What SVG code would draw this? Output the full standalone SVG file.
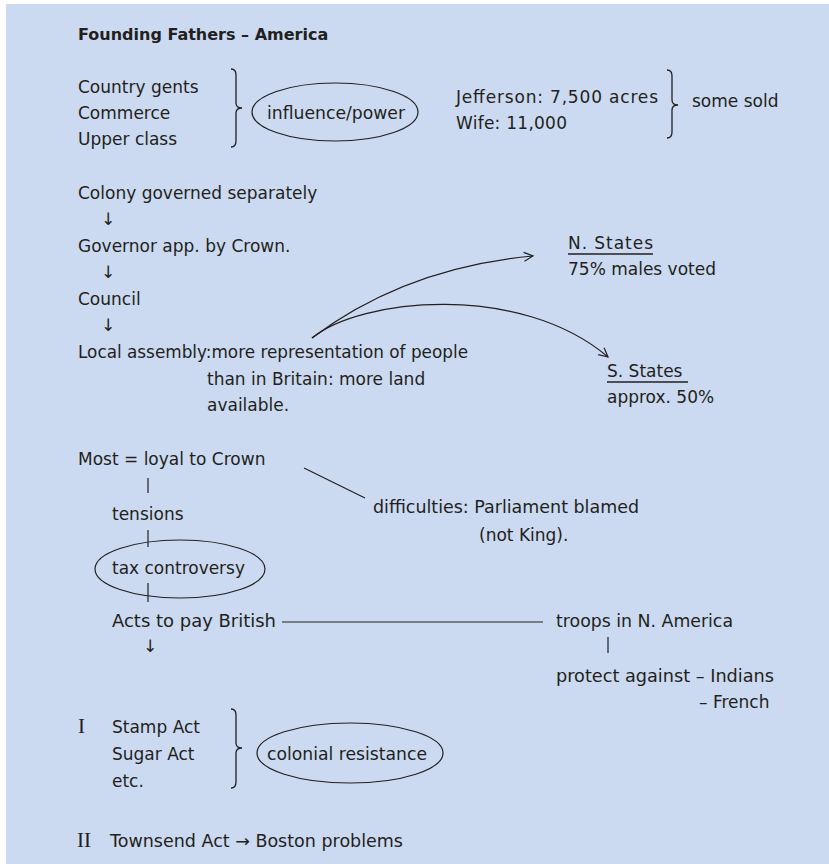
<svg xmlns="http://www.w3.org/2000/svg" width="829" height="864" viewBox="0 0 829 864">
<style>
text{font-family:"DejaVu Sans","Liberation Sans",sans-serif;font-size:17px;fill:#231f20}
.b{font-weight:bold;font-size:16px}
.s{font-family:"Liberation Serif",serif;font-size:21px}
.ln{fill:none;stroke:#231f20;stroke-width:1.2}
.br{fill:none;stroke:#231f20;stroke-width:1.3}
.ov{fill:none;stroke:#231f20;stroke-width:1.2}
.ul{stroke:#231f20;stroke-width:1.3}
</style>
<defs>
<marker id="ah" markerUnits="userSpaceOnUse" markerWidth="12" markerHeight="12" refX="10" refY="6" orient="auto">
<path d="M1,1.5 L10,6 L1,10.5" fill="none" stroke="#231f20" stroke-width="1.2"/>
</marker>
</defs>
<rect x="6" y="4" width="823" height="860" fill="#cbdaf0"/>
<g id="title"><text class="b" x="78" y="40">Founding Fathers – America</text></g>
<g id="classes">
<text x="78" y="93">Country gents</text>
<text x="78" y="119">Commerce</text>
<text x="78" y="145">Upper class</text>
<path class="br" d="M231,69 Q236,69 236,75 L236,103 Q236,108 242,108 Q236,108 236,113 L236,141 Q236,147 231,147"/>
</g>
<g id="influence"><ellipse class="ov" cx="335" cy="112" rx="83" ry="29"/><text x="267" y="119" textLength="138" lengthAdjust="spacingAndGlyphs">influence/power</text></g>
<g id="jefferson">
<text x="456" y="103" textLength="202" lengthAdjust="spacing">Jefferson: 7,500 acres</text>
<text x="456" y="129" textLength="111" lengthAdjust="spacing">Wife: 11,000</text>
<path class="br" d="M667,70 Q672,70 672,76 L672,100 Q672,105 678,105 Q672,105 672,110 L672,132 Q672,138 667,138"/>
</g>
<g id="somesold"><text x="692" y="107">some sold</text></g>
<g id="colony"><text x="78" y="199">Colony governed separately</text><text x="101" y="225">↓</text></g>
<g id="governor"><text x="78" y="252">Governor app. by Crown.</text><text x="101" y="278">↓</text></g>
<g id="council"><text x="78" y="305">Council</text><text x="101" y="331">↓</text></g>
<g id="assembly">
<text x="78" y="358" textLength="390" lengthAdjust="spacingAndGlyphs">Local assembly:more representation of people</text>
<text x="207" y="385">than in Britain: more land</text>
<text x="207" y="411">available.</text>
</g>
<g id="nstates"><text x="568" y="249" textLength="85" lengthAdjust="spacing">N. States</text><line class="ul" x1="568" y1="254" x2="653" y2="254"/><text x="568" y="275">75% males voted</text></g>
<g id="sstates"><text x="607" y="377">S. States</text><line class="ul" x1="607" y1="382" x2="688" y2="382"/><text x="607" y="403">approx. 50%</text></g>
<g id="loyal"><text x="78" y="465">Most = loyal to Crown</text></g>
<g id="tensions"><text x="112" y="520">tensions</text></g>
<g id="tax"><ellipse class="ov" cx="180" cy="569" rx="85" ry="29"/><text x="112" y="574" textLength="133" lengthAdjust="spacingAndGlyphs">tax controversy</text></g>
<g id="difficulties"><text x="373" y="513" textLength="266" lengthAdjust="spacingAndGlyphs">difficulties: Parliament blamed</text><text x="479" y="541">(not King).</text></g>
<g id="acts"><text x="112" y="627" textLength="164" lengthAdjust="spacingAndGlyphs">Acts to pay British</text><text x="143" y="652">↓</text></g>
<g id="troops"><text x="556" y="627" textLength="177" lengthAdjust="spacingAndGlyphs">troops in N. America</text></g>
<g id="protect"><text x="556" y="682" textLength="218" lengthAdjust="spacingAndGlyphs">protect against – Indians</text><text x="699" y="708">– French</text></g>
<g id="stamp">
<text class="s" x="78" y="733">I</text>
<text x="112" y="733">Stamp Act</text>
<text x="112" y="760">Sugar Act</text>
<text x="112" y="787">etc.</text>
<path class="br" d="M231,709 Q236,709 236,715 L236,743 Q236,748 242,748 Q236,748 236,753 L236,782 Q236,788 231,788"/>
</g>
<g id="resistance"><ellipse class="ov" cx="350" cy="753" rx="93" ry="30"/><text x="267" y="760" textLength="160" lengthAdjust="spacingAndGlyphs">colonial resistance</text></g>
<g id="townsend"><text class="s" x="77" y="847">II</text><text x="110" y="847" textLength="293" lengthAdjust="spacingAndGlyphs">Townsend Act → Boston problems</text></g>
<g id="connectors">
<path class="ln" d="M312,338 Q405,268 533,256" marker-end="url(#ah)"/>
<path class="ln" d="M312,338 C360,298 520,282 608,357" marker-end="url(#ah)"/>
<line class="ln" x1="148" y1="478" x2="148" y2="493"/>
<line class="ln" x1="148" y1="530" x2="148" y2="547"/>
<line class="ln" x1="148" y1="583" x2="148" y2="602"/>
<line class="ln" x1="304" y1="468" x2="365" y2="498"/>
<line class="ln" x1="282" y1="622" x2="543" y2="622"/>
<line class="ln" x1="608" y1="637" x2="608" y2="653"/>
</g>
</svg>
